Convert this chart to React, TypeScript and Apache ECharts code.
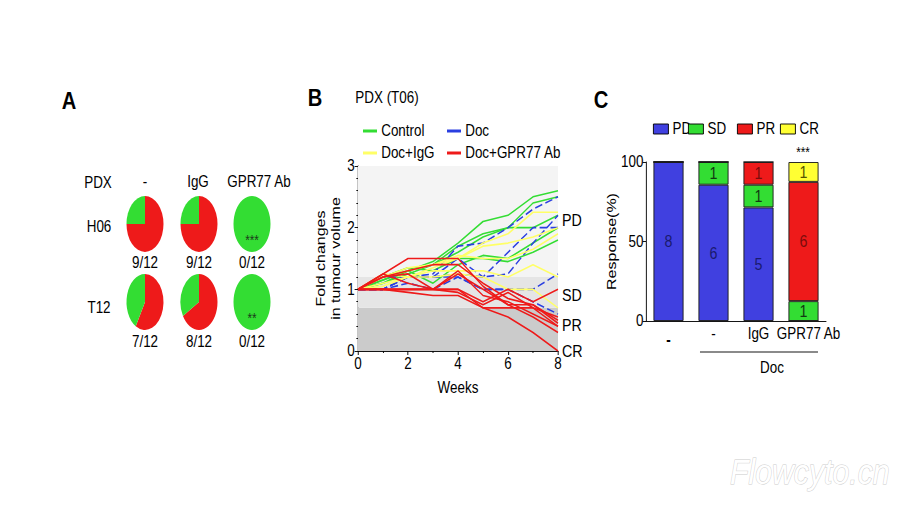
import React, { useEffect, useRef } from 'react';
import * as echarts from 'echarts';

// The reference figure is horizontally condensed; draw on a wider canvas and squeeze it with CSS.
const S = 0.84;
const W = Math.round(900 / S);
const L = (x: number) => x / S;
const FONT = 'Arial, "Liberation Sans", Helvetica, sans-serif';

// ---------- Panel A data ----------
const pieCols = ['-', 'IgG', 'GPR77 Ab'];
const pieRows = ['H06', 'T12'];
const pieTotal = 12;
const pieRedH06 = [9, 9, 0];
const pieRedT12 = [7, 8, 0];
const pieStarsH06 = ['', '', '***'];
const pieStarsT12 = ['', '', '**'];

// ---------- Panel B data ----------
const weeks = [0, 1, 2, 3, 4, 5, 6, 7, 8];
const controlLines = [
  [1, 1.15, 1.3, 1.45, 1.75, 2.1, 2.2, 2.5, 2.6],
  [1, 1.1, 1.25, 1.4, 1.7, 1.9, 2.0, 2.4, 2.5],
  [1, 1.15, 1.3, 1.4, 1.6, 1.85, 2.0, 2.0, 2.2],
  [1, 1.2, 1.35, 1.3, 1.5, 1.5, 1.45, 1.6, 1.8],
  [1, 1.1, 1.3, 1.1, 1.4, 1.55, 1.5, 1.75, 2.0],
];
const docLines = [
  [1, 1.0, 1.2, 1.25, 1.7, 1.75, 2.0, 2.3, 2.5],
  [1, 1.0, 1.2, 1.2, 1.5, 1.2, 1.6, 2.0, 2.0],
  [1, 1.2, 1.2, 1.2, 1.25, 1.2, 1.25, 1.75, 2.2],
  [1, 1.0, 1.2, 1.2, 1.2, 1.0, 1.0, 0.8, 0.6],
  [1, 1.0, 1.1, 1.0, 1.2, 1.0, 1.0, 1.0, 1.25],
];
const docIgGLines = [
  [1, 1.25, 1.2, 1.35, 1.5, 1.75, 1.9, 2.25, 2.25],
  [1, 1.2, 1.3, 1.4, 1.5, 1.7, 1.75, 1.85, 2.0],
  [1, 1.1, 1.2, 1.3, 1.3, 1.3, 1.2, 1.4, 1.2],
  [1, 1.05, 1.2, 1.2, 1.25, 1.2, 1.0, 1.0, 0.7],
  [1, 1.2, 1.35, 1.4, 1.55, 1.5, 1.5, 1.65, 1.9],
];
const docGprLines = [
  [1, 1.25, 1.5, 1.5, 1.5, 1.05, 0.75, 0.75, 0.5],
  [1, 1.2, 1.3, 1.4, 1.4, 1.1, 0.85, 0.75, 0.45],
  [1, 1.0, 1.0, 1.0, 1.0, 0.8, 1.0, 0.8, 1.0],
  [1, 1.0, 0.95, 0.9, 0.9, 0.7, 0.55, 0.3, 0.0],
  [1, 1.25, 1.1, 1.0, 1.25, 1.0, 0.75, 0.55, 0.3],
  [1, 1.0, 1.0, 1.0, 1.0, 0.7, 0.7, 0.7, 0.4],
  [1, 1.2, 1.25, 1.0, 1.3, 0.9, 0.8, 0.6, 0.4],
  [1, 1.0, 1.0, 1.0, 0.95, 0.75, 0.95, 0.7, 0.55],
];
const bandBreaks = [0, 0.7, 1.2, 3];
const responseLabels = ['PD', 'SD', 'PR', 'CR'];
const responseLabelY = [2.13, 0.9, 0.42, 0.0];

// ---------- Panel C data ----------
const groups = ['-', '-', 'IgG', 'GPR77 Ab'];
const pdCounts = [8, 6, 5, 0];
const sdCounts = [0, 1, 1, 1];
const prCounts = [0, 0, 1, 6];
const crCounts = [0, 0, 0, 1];

// ---------- styles / layout ----------
const RED = '#ee1a1a';
const GREEN = '#33dd33';
const BLUE = '#2a3fe0';
const YELLOW = '#ffff66';
const BAR_BLUE = '#4040e0';
const BAR_YELLOW = '#ffff33';

const PIE_X = [145, 199, 252];
const PIE_Y = [224, 302];
const PIE_RX = 18.5;
const PIE_RY = 28;

const txt = (x: number, y: number, text: string, opts: any = {}) => ({
  type: 'text',
  x: L(x),
  y,
  silent: true,
  style: {
    text,
    fill: '#000',
    fontSize: 16,
    fontFamily: FONT,
    align: 'center',
    verticalAlign: 'middle',
    textAlign: 'center',
    textVerticalAlign: 'middle',
    ...opts,
  },
});

function buildOption() {
  const pieData: number[][] = [];
  [pieRedH06, pieRedT12].forEach((reds, r) => {
    reds.forEach((red, c) => pieData.push([c, r, red, pieTotal]));
  });
  const stars = [pieStarsH06, pieStarsT12];

  const pieSeries = {
    type: 'custom',
    coordinateSystem: 'none',
    silent: true,
    data: pieData,
    renderItem: (params: any, api: any) => {
      const c = api.value(0);
      const r = api.value(1);
      const red = api.value(2);
      const tot = api.value(3);
      const cx = L(PIE_X[c]);
      const cy = PIE_Y[r];
      const rad = L(PIE_RX);
      const start = -Math.PI / 2;
      const mid = start + (2 * Math.PI * red) / tot;
      const sectors: any[] = [];
      if (red > 0) {
        sectors.push({
          type: 'sector',
          shape: { cx: 0, cy: 0, r: rad, r0: 0, startAngle: start, endAngle: mid, clockwise: true },
          style: { fill: RED },
        });
      }
      if (red < tot) {
        sectors.push({
          type: 'sector',
          shape: { cx: 0, cy: 0, r: rad, r0: 0, startAngle: mid, endAngle: start + 2 * Math.PI, clockwise: true },
          style: { fill: GREEN },
        });
      }
      const children: any[] = [
        { type: 'group', x: cx, y: cy, scaleY: PIE_RY / rad, children: sectors },
        {
          type: 'text',
          x: cx,
          y: cy + 39 + r,
          style: {
            text: `${red}/${tot}`,
            fill: '#000',
            fontSize: 16,
            fontFamily: FONT,
            align: 'center',
            verticalAlign: 'middle',
            textAlign: 'center',
            textVerticalAlign: 'middle',
          },
        },
      ];
      const st = stars[r][c];
      if (st) {
        children.push({
          type: 'text',
          x: cx,
          y: cy + 16,
          style: {
            text: st,
            fill: '#1c3a1c',
            fontSize: 14,
            fontFamily: FONT,
            align: 'center',
            verticalAlign: 'middle',
            textAlign: 'center',
            textVerticalAlign: 'middle',
          },
        });
      }
      return { type: 'group', children };
    },
  };

  const lineSeries = (name: string, lines: number[][], color: string, dashed: boolean) =>
    lines.map((vals) => ({
      type: 'line',
      name,
      xAxisIndex: 0,
      yAxisIndex: 0,
      data: weeks.map((w, i) => [w, vals[i]]),
      symbol: 'none',
      color,
      z: 3,
      lineStyle: { width: 1.6, color, type: dashed ? [9, 4] : 'solid' },
      silent: true,
    }));

  const bandColors = ['#cbcbcb', '#e5e5e5', '#f4f4f4'];
  const bandSeries = {
    type: 'line',
    name: 'bands',
    xAxisIndex: 0,
    yAxisIndex: 0,
    data: [[0, 1]],
    symbol: 'none',
    lineStyle: { opacity: 0 },
    z: 1,
    silent: true,
    markArea: {
      silent: true,
      data: bandColors.map((col, i) => [
        { yAxis: bandBreaks[i], itemStyle: { color: col } },
        { yAxis: bandBreaks[i + 1] },
      ]),
    },
  };

  const totals = groups.map((_, i) => pdCounts[i] + sdCounts[i] + prCounts[i] + crCounts[i]);
  const barSeries = (name: string, counts: number[], color: string, labelColor: string) => ({
    type: 'bar',
    name,
    xAxisIndex: 1,
    yAxisIndex: 1,
    stack: 'resp',
    barWidth: L(30),
    data: counts.map((v, i) => (v / totals[i]) * 100),
    itemStyle: { color, borderColor: '#1a1a1a', borderWidth: 1 },
    label: {
      show: true,
      position: 'inside',
      fontSize: 17,
      fontFamily: FONT,
      color: labelColor,
      formatter: (p: any) => (counts[p.dataIndex] > 0 ? String(counts[p.dataIndex]) : ''),
    },
    silent: true,
  });

  const yB = (v: number) => 351 - v * (185 / 3);

  const legendCommon = {
    orient: 'vertical',
    icon: 'rect',
    itemWidth: L(14),
    itemHeight: 3,
    itemGap: 6,
    padding: 0,
    selectedMode: false,
    textStyle: { fontSize: 16, color: '#000', fontFamily: FONT },
  };
  const legendC = (name: string, left: number) => ({
    data: [name],
    left: L(left),
    top: 121,
    padding: 0,
    icon: 'rect',
    itemWidth: L(15),
    itemHeight: 10,
    selectedMode: false,
    itemStyle: { borderColor: '#000', borderWidth: 1 },
    textStyle: { fontSize: 16, color: '#000', fontFamily: FONT },
  });

  return {
    animation: false,
    backgroundColor: '#ffffff',
    textStyle: { fontFamily: FONT },
    legend: [
      { ...legendCommon, left: L(363), top: 123, data: ['Control', 'Doc+IgG'] },
      { ...legendCommon, left: L(447), top: 123, data: ['Doc', 'Doc+GPR77 Ab'] },
      legendC('PD', 653),
      legendC('SD', 688),
      legendC('PR', 737),
      legendC('CR', 780),
    ],
    grid: [
      { left: L(358), top: 166, width: L(558) - L(358), height: 185 },
      { left: L(646), top: 162, width: L(180), height: 159 },
    ],
    xAxis: [
      {
        gridIndex: 0,
        type: 'value',
        min: 0,
        max: 8,
        interval: 2,
        name: 'Weeks',
        nameLocation: 'middle',
        nameGap: 29,
        nameTextStyle: { fontSize: 16, color: '#000', fontFamily: FONT },
        axisLine: { show: true, onZero: false, lineStyle: { color: '#000', width: 1 } },
        axisTick: { show: true, length: 4, lineStyle: { color: '#000' } },
        minorTick: { show: true, splitNumber: 2, length: 2, lineStyle: { color: '#000' } },
        axisLabel: { fontSize: 16, color: '#000', margin: 5, fontFamily: FONT },
        splitLine: { show: false },
      },
      {
        gridIndex: 1,
        type: 'category',
        data: groups,
        axisLine: { show: true, lineStyle: { color: '#000', width: 1 } },
        axisTick: { show: false },
        axisLabel: {
          fontSize: 16,
          color: '#000',
          margin: 5,
          interval: 0,
          fontFamily: FONT,
          formatter: (v: string, i: number) =>
            i === 0 ? `{b|${v}}` : i === groups.length - 1 ? `{r|${v}}` : v,
          rich: {
            b: { fontSize: 16, fontWeight: 'bold', padding: [6, 0, 0, 0], color: '#000' },
            r: { fontSize: 16, padding: [0, 0, 0, 12], color: '#000' },
          },
        },
      },
    ],
    yAxis: [
      {
        gridIndex: 0,
        type: 'value',
        min: 0,
        max: 3,
        interval: 1,
        name: 'Fold changes\nin tumour volume',
        nameLocation: 'middle',
        nameRotate: 90,
        nameGap: 18,
        nameTextStyle: { fontSize: 16, color: '#000', lineHeight: 18, fontFamily: FONT },
        axisLine: { show: true, onZero: false, lineStyle: { color: '#000', width: 1 } },
        axisTick: { show: true, length: 4, lineStyle: { color: '#000' } },
        minorTick: { show: true, splitNumber: 5, length: 2, lineStyle: { color: '#000' } },
        axisLabel: { fontSize: 16, color: '#000', margin: 4, fontFamily: FONT },
        splitLine: { show: false },
      },
      {
        gridIndex: 1,
        type: 'value',
        min: 0,
        max: 100,
        interval: 50,
        name: 'Response(%)',
        nameLocation: 'middle',
        nameRotate: 90,
        nameGap: 31,
        nameTextStyle: { fontSize: 16, color: '#000', fontFamily: FONT },
        axisLine: { show: true, lineStyle: { color: '#000', width: 1 } },
        axisTick: { show: true, length: 4, lineStyle: { color: '#000' } },
        axisLabel: { fontSize: 16, color: '#000', margin: 3, fontFamily: FONT },
        splitLine: { show: false },
      },
    ],
    series: [
      pieSeries,
      bandSeries,
      ...lineSeries('Control', controlLines, GREEN, false),
      ...lineSeries('Doc', docLines, BLUE, true),
      ...lineSeries('Doc+IgG', docIgGLines, YELLOW, false),
      ...lineSeries('Doc+GPR77 Ab', docGprLines, RED, false),
      barSeries('PD', pdCounts, BAR_BLUE, '#1a1a6e'),
      barSeries('SD', sdCounts, GREEN, '#123a12'),
      barSeries('PR', prCounts, RED, '#7a0c0c'),
      barSeries('CR', crCounts, BAR_YELLOW, '#555500'),
    ],
    graphic: [
      // panel letters
      txt(69, 101, 'A', { fontSize: 24, fontWeight: 'bold' }),
      txt(315, 98, 'B', { fontSize: 24, fontWeight: 'bold' }),
      txt(601, 100, 'C', { fontSize: 24, fontWeight: 'bold' }),
      // panel A headers
      txt(98, 183, 'PDX'),
      ...pieCols.map((c, i) => txt([145, 198, 259][i], 182, c)),
      ...pieRows.map((r, i) => txt(99, [227, 308][i], r)),
      // panel B title and response labels
      txt(387, 98, 'PDX (T06)'),
      ...responseLabels.map((t, i) =>
        txt(562, yB(responseLabelY[i]), t, { fontSize: 17, align: 'left', textAlign: 'left' })
      ),
      // panel C annotations
      txt(803, 152, '***', { fontSize: 14 }),
      {
        type: 'line',
        silent: true,
        shape: { x1: L(700), y1: 352, x2: L(818), y2: 352 },
        style: { stroke: '#000', lineWidth: 1 },
      },
      txt(772, 368, 'Doc'),
      // watermark
      txt(730, 472, 'Flowcyto.cn', {
        fontSize: 36,
        fontStyle: 'italic',
        fill: '#ffffff',
        stroke: '#cccccc',
        lineWidth: 1,
        align: 'left',
        textAlign: 'left',
      }),
    ],
  };
}

export default function App() {
  const ref = useRef<HTMLDivElement>(null);
  useEffect(() => {
    if (!ref.current) return;
    const chart = echarts.init(ref.current, null, { renderer: 'svg' });
    chart.setOption(buildOption() as any);
    return () => chart.dispose();
  }, []);
  return (
    <div
      style={{
        position: 'fixed',
        left: 0,
        top: 0,
        width: 900,
        height: 506,
        overflow: 'hidden',
        background: '#fff',
      }}
    >
      <div
        ref={ref}
        style={{ width: W, height: 506, transform: `scaleX(${S})`, transformOrigin: '0 0' }}
      />
    </div>
  );
}
